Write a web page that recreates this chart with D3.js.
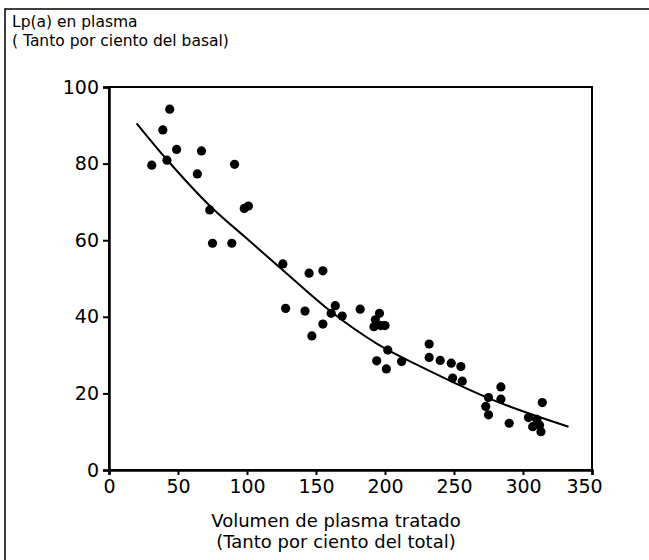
<!DOCTYPE html>
<html>
<head>
<meta charset="utf-8">
<script src="https://cdn.jsdelivr.net/npm/d3@7"></script>
<style>
  body { margin: 0; background: #fff; }
  text { font-family: "DejaVu Sans", "Liberation Sans", sans-serif; fill: #000; }
</style>
</head>
<body>
<div id="chart"></div>
<script>
// Data
// volumen de plasma tratado (%)
var volumen = [31, 39, 44, 42, 49, 67, 64, 73, 75, 89, 91, 98, 101,
  126, 145, 155, 128, 142, 164, 161, 169, 155, 147, 182, 196, 193, 192, 197, 200,
  202, 194, 201, 212, 232, 232, 240, 248, 255, 249, 256,
  284, 275, 284, 273, 275, 290, 314, 304, 310, 307, 313, 312];
// Lp(a) en plasma (% del basal)
var lpa = [79.6, 88.8, 94.2, 80.9, 83.7, 83.3, 77.3, 67.9, 59.2, 59.2, 79.8, 68.3, 68.9,
  53.8, 51.4, 52.0, 42.2, 41.5, 42.9, 40.9, 40.2, 38.1, 35.0, 42.0, 40.9, 39.2, 37.4, 37.7, 37.7,
  31.3, 28.5, 26.4, 28.3, 32.9, 29.4, 28.6, 27.9, 27.0, 24.0, 23.2,
  21.7, 18.9, 18.5, 16.6, 14.4, 12.2, 17.6, 13.7, 13.2, 11.3, 10.0, 11.7];

// fitted curve
var curvaX = [20, 42, 73, 98, 124, 161, 194, 223, 278, 333];
var curvaY = [90.5, 81, 69, 61, 52.8, 41.3, 33, 27.5, 18.3, 11.3];

var xTicks = [0, 50, 100, 150, 200, 250, 300, 350];
var yTicks = [0, 20, 40, 60, 80, 100];

var svgWidth = 649;
var svgHeight = 560;

var svg = d3.select("#chart")
  .append("svg")
  .attr("width", svgWidth)
  .attr("height", svgHeight);

// outer box (only left and top edges show)
svg.append("path")
  .attr("d", "M5,560 L5,9 L649,9")
  .attr("fill", "none")
  .attr("stroke", "#000")
  .attr("stroke-width", 1.5);

var xScale = d3.scaleLinear().domain([0, 350]).range([109, 592]);
var yScale = d3.scaleLinear().domain([0, 100]).range([470, 87]);

// plot frame
svg.append("rect")
  .attr("x", xScale(0))
  .attr("y", yScale(100))
  .attr("width", xScale(350) - xScale(0))
  .attr("height", yScale(0) - yScale(100))
  .attr("fill", "none")
  .attr("stroke", "#000")
  .attr("stroke-width", 2);

var bottomAxis = d3.axisBottom(xScale).tickValues(xTicks).tickSize(5).tickPadding(5);
var leftAxis = d3.axisLeft(yScale).tickValues(yTicks).tickSize(6).tickPadding(4);

var gx = svg.append("g")
  .attr("transform", `translate(0, ${yScale(0)})`)
  .call(bottomAxis);

var gy = svg.append("g")
  .attr("transform", `translate(${xScale(0)}, 0)`)
  .call(leftAxis);

[gx, gy].forEach(function(g) {
  g.select(".domain").attr("stroke-width", 2.5);
  g.selectAll(".tick line").attr("stroke-width", 2);
  g.selectAll(".tick text")
    .attr("font-size", "19px")
    .attr("font-family", "DejaVu Sans, sans-serif");
});
gx.selectAll(".tick text")
  .filter(d => d === 350)
  .attr("dx", -8);

// curve
var line = d3.line()
  .x(d => xScale(d[0]))
  .y(d => yScale(d[1]))
  .curve(d3.curveCatmullRom);

svg.append("path")
  .datum(curvaX.map((x, i) => [x, curvaY[i]]))
  .attr("d", line)
  .attr("fill", "none")
  .attr("stroke", "#000")
  .attr("stroke-width", 2);

// points
svg.append("g")
  .selectAll("circle")
  .data(volumen.map((x, i) => [x, lpa[i]]))
  .enter()
  .append("circle")
  .attr("cx", d => xScale(d[0]))
  .attr("cy", d => yScale(d[1]))
  .attr("r", 4.6)
  .attr("fill", "#000");

// y axis title
svg.append("text")
  .attr("x", 12)
  .attr("y", 27)
  .attr("font-size", "15.5px")
  .text("Lp(a) en plasma");
svg.append("text")
  .attr("x", 12)
  .attr("y", 46)
  .attr("font-size", "15.5px")
  .text("( Tanto por ciento del basal)");

// x axis title
svg.append("text")
  .attr("x", 336)
  .attr("y", 527)
  .attr("text-anchor", "middle")
  .attr("font-size", "18px")
  .text("Volumen de plasma tratado");
svg.append("text")
  .attr("x", 336)
  .attr("y", 548)
  .attr("text-anchor", "middle")
  .attr("font-size", "18px")
  .text("(Tanto por ciento del total)");
</script>
</body>
</html>
